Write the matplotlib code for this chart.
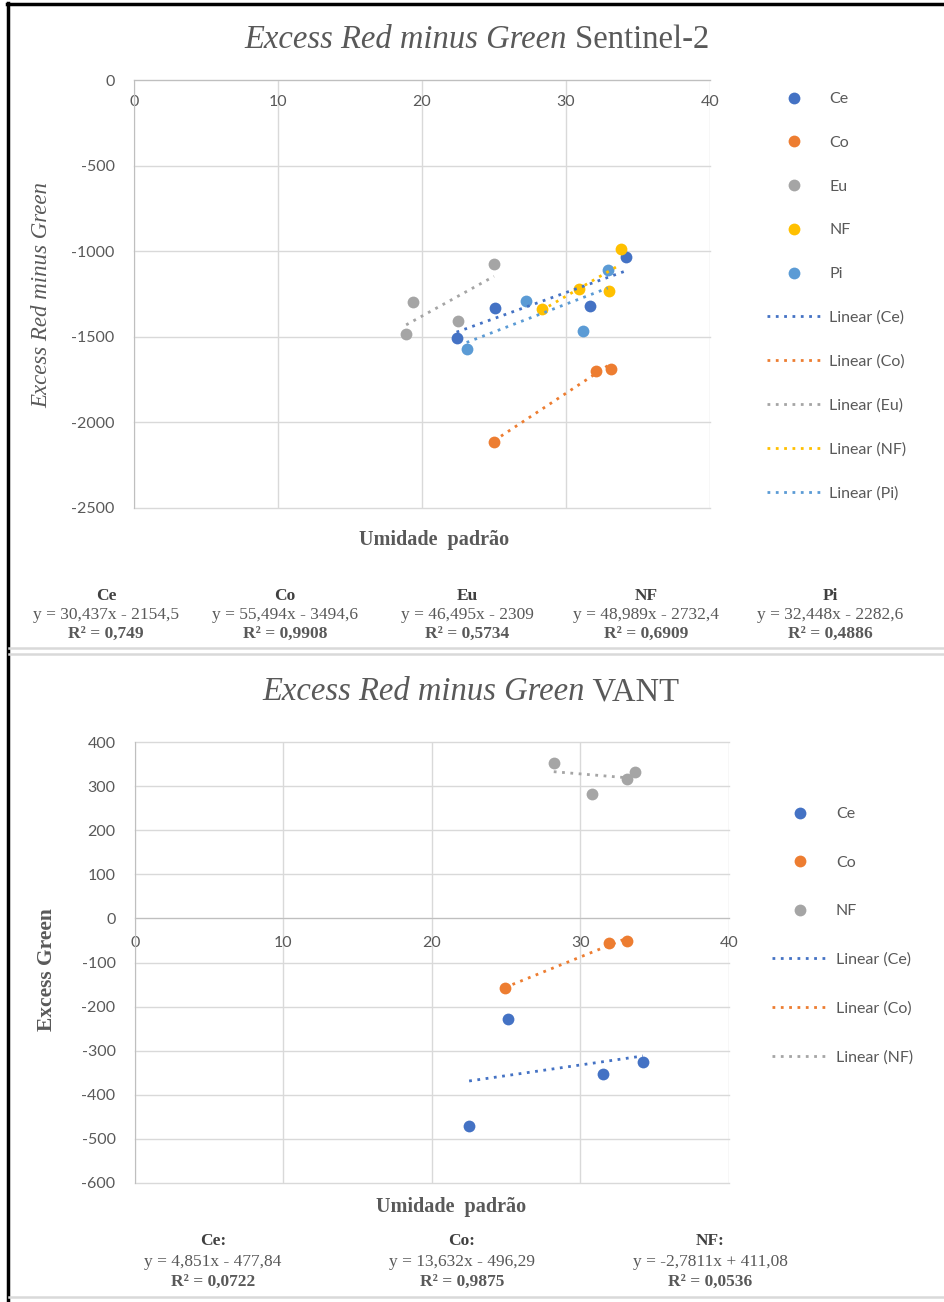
import matplotlib.pyplot as plt
from matplotlib.lines import Line2D

W, H = 945, 1302
SERIF = "Liberation Serif"
GREY = "#595959"

plt.rcParams["font.family"] = ["Lato", "DejaVu Sans"]
plt.rcParams["axes.unicode_minus"] = False

# --- Sentinel-2 ---
s2_names = ["Ce", "Co", "Eu", "NF", "Pi"]
s2_colors = ["#4472C4", "#ED7D31", "#A5A5A5", "#FFC000", "#5B9BD5"]
s2_ce_x = [22.4, 25.1, 31.7, 34.2]
s2_ce_y = [-1507, -1332, -1320, -1034]
s2_co_x = [25.0, 32.1, 33.1]
s2_co_y = [-2116, -1700, -1690]
s2_eu_x = [18.9, 19.4, 22.5, 25.0]
s2_eu_y = [-1486, -1299, -1405, -1075]
s2_nf_x = [28.3, 30.9, 33.0, 33.8]
s2_nf_y = [-1340, -1221, -1232, -989]
s2_pi_x = [23.1, 27.2, 31.2, 32.9]
s2_pi_y = [-1571, -1291, -1464, -1112]
s2_slope = [30.437, 55.494, 46.495, 48.989, 32.448]
s2_icept = [-2154.5, -3494.6, -2309, -2732.4, -2282.6]
s2_r2 = [0.749, 0.9908, 0.5734, 0.6909, 0.4886]

# --- VANT ---
va_names = ["Ce", "Co", "NF"]
va_colors = ["#4472C4", "#ED7D31", "#A5A5A5"]
va_ce_x = [22.5, 25.1, 31.5, 34.2]
va_ce_y = [-471, -228, -353, -326]
va_co_x = [24.9, 31.9, 33.1]
va_co_y = [-158, -56, -52]
va_nf_x = [28.2, 30.8, 33.1, 33.7]
va_nf_y = [352, 281, 315, 331]
va_slope = [4.851, 13.632, -2.7811]
va_icept = [-477.84, -496.29, 411.08]
va_r2 = [0.0722, 0.9875, 0.0536]


def fx(x):
    return x / W


def fy(y):
    return 1 - y / H


def dec(v):
    return f"{v:g}".replace(".", ",")


def equation(m, b):
    sign = "-" if b < 0 else "+"
    return f"y = {dec(m)}x {sign} {dec(abs(b))}"


fig = plt.figure(figsize=(W / 100, H / 100), dpi=100)
fig.patch.set_facecolor("white")

# frame lines around the two panels
fig.add_artist(Line2D([fx(7), fx(W)], [fy(4), fy(4)], color="black", lw=2.5,
                      transform=fig.transFigure))
fig.add_artist(Line2D([fx(8), fx(8)], [fy(3), fy(H)], color="black", lw=2.5,
                      transform=fig.transFigure))
for yy in (648, 654, 1297):
    fig.add_artist(Line2D([fx(9), fx(W)], [fy(yy), fy(yy)], color="#D9D9D9",
                          lw=1.8, transform=fig.transFigure))


def two_part_title(cx, cy, italic_part, plain_part, size=23.5):
    r = fig.canvas.get_renderer()
    t1 = fig.text(0, fy(cy), italic_part, family=SERIF, style="italic",
                  size=size, color=GREY, va="center")
    t2 = fig.text(0, fy(cy), " " + plain_part, family=SERIF, size=size,
                  color=GREY, va="center")
    w1 = t1.get_window_extent(r).width
    w2 = t2.get_window_extent(r).width
    left = cx - (w1 + w2) / 2
    t1.set_x(fx(left))
    t2.set_x(fx(left + w1))


def setup_axes(ax, ylim, yticks, xpad):
    ax.set_xlim(0, 40)
    ax.set_ylim(*ylim)
    ax.set_xticks(range(0, 41, 10))
    ax.set_yticks(yticks)
    ax.grid(True, color="#D9D9D9", lw=1)
    ax.set_axisbelow(True)
    for gl in ax.get_xgridlines() + ax.get_ygridlines():
        gl.set_clip_on(False)
    ax.spines["top"].set_visible(False)
    ax.spines["right"].set_visible(False)
    ax.spines["bottom"].set_position(("data", 0))
    ax.spines["bottom"].set_color("#BFBFBF")
    ax.spines["left"].set_color("#BFBFBF")
    ax.tick_params(length=0, labelcolor=GREY, labelsize=11.5)
    ax.tick_params(axis="x", pad=xpad)
    ax.tick_params(axis="y", pad=14)


def draw_series(ax, xs_list, ys_list, names, colors, slopes, icepts):
    pts, fits = [], []
    for xs, ys, n, c in zip(xs_list, ys_list, names, colors):
        p, = ax.plot(xs, ys, "o", color=c, ms=8.5, mec="none", label=n, zorder=3)
        pts.append(p)
    # trend lines over the x range of each series
    for xs, n, c, m, b in zip(xs_list, names, colors, slopes, icepts):
        x0, x1 = min(xs), max(xs)
        l, = ax.plot([x0, x1], [m * x0 + b, m * x1 + b], color=c, lw=2,
                     ls=(0, (1, 2)), label=f"Linear ({n})", zorder=4)
        fits.append(l)
    return pts + fits


# ---------------- Sentinel-2 panel ----------------
ax1 = fig.add_axes([fx(134), fy(508), fx(710) - fx(134), fy(80) - fy(508)])
setup_axes(ax1, (-2500, 0), range(-2500, 1, 500), 11)
h1 = draw_series(ax1, [s2_ce_x, s2_co_x, s2_eu_x, s2_nf_x, s2_pi_x],
                 [s2_ce_y, s2_co_y, s2_eu_y, s2_nf_y, s2_pi_y],
                 s2_names, s2_colors, s2_slope, s2_icept)
ax1.legend(handles=h1, loc="upper left", bbox_to_anchor=(fx(767), fy(92)),
           bbox_transform=fig.transFigure, frameon=False, handlelength=3.4,
           handletextpad=0.5, labelspacing=1.85, borderpad=0, borderaxespad=0,
           fontsize=11.5, labelcolor=GREY)
two_part_title(477, 40, "Excess Red minus Green", "Sentinel-2")
fig.text(fx(434), fy(540), "Umidade  padrão", family=SERIF, weight="bold",
         size=14.5, color=GREY, ha="center", va="center")
fig.text(fx(42), fy(295), "Excess Red minus Green", family=SERIF, style="italic",
         size=16.5, color=GREY, ha="center", va="center", rotation=90)

for cx, n, m, b, r2 in zip([106, 285, 467, 646, 830], s2_names, s2_slope,
                           s2_icept, s2_r2):
    fig.text(fx(cx), fy(596), n, family=SERIF, weight="bold", size=12.5,
             color="#404040", ha="center", va="center")
    fig.text(fx(cx), fy(615), equation(m, b), family=SERIF, size=12.5,
             color=GREY, ha="center", va="center")
    fig.text(fx(cx), fy(634), f"R² = {dec(r2)}", family=SERIF, weight="bold",
             size=12.5, color=GREY, ha="center", va="center")

# ---------------- VANT panel ----------------
ax2 = fig.add_axes([fx(135), fy(1183), fx(729) - fx(135), fy(742) - fy(1183)])
setup_axes(ax2, (-600, 400), range(-600, 401, 100), 13)
h2 = draw_series(ax2, [va_ce_x, va_co_x, va_nf_x], [va_ce_y, va_co_y, va_nf_y],
                 va_names, va_colors, va_slope, va_icept)
ax2.legend(handles=h2, loc="upper left", bbox_to_anchor=(fx(772), fy(807)),
           bbox_transform=fig.transFigure, frameon=False, handlelength=3.5,
           handletextpad=0.5, labelspacing=2.15, borderpad=0, borderaxespad=0,
           fontsize=11.5, labelcolor=GREY)
two_part_title(471, 692, "Excess Red minus Green", "VANT")
fig.text(fx(451), fy(1207), "Umidade  padrão", family=SERIF, weight="bold",
         size=14.5, color=GREY, ha="center", va="center")
fig.text(fx(47), fy(970), "Excess Green", family=SERIF, weight="bold",
         size=15.5, color=GREY, ha="center", va="center", rotation=90)

for cx, n, m, b, r2 in zip([213, 462, 710], va_names, va_slope, va_icept, va_r2):
    fig.text(fx(cx), fy(1241), n + ":", family=SERIF, weight="bold", size=12.5,
             color="#404040", ha="center", va="center")
    fig.text(fx(cx), fy(1262), equation(m, b), family=SERIF, size=12.5,
             color=GREY, ha="center", va="center")
    fig.text(fx(cx), fy(1282), f"R² = {dec(r2)}", family=SERIF, weight="bold",
             size=12.5, color=GREY, ha="center", va="center")

fig.savefig("out.png", dpi=100)
